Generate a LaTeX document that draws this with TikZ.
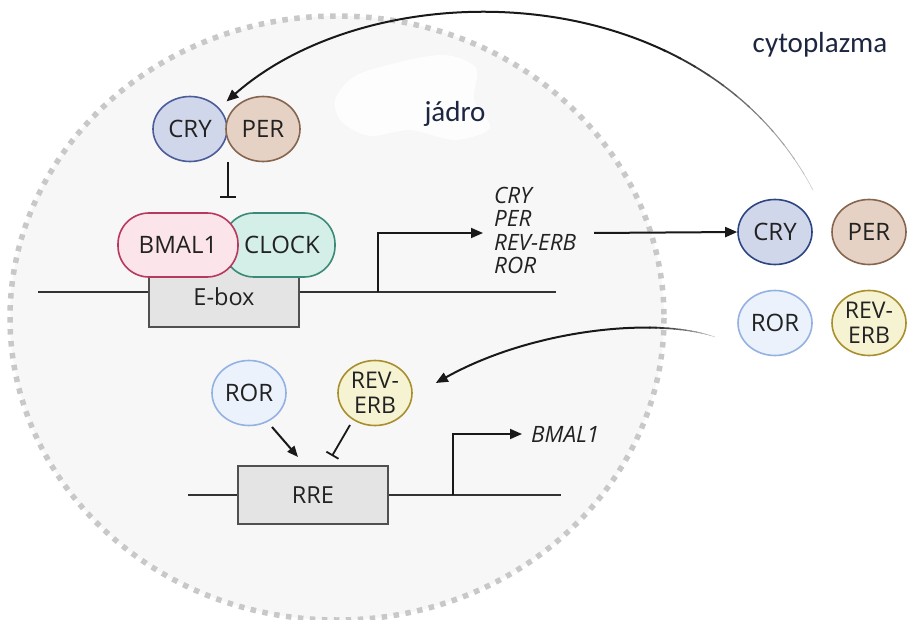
\documentclass[tikz,border=0pt]{standalone}
\usepackage{fontspec}
\setmainfont{Open Sans}
\newfontfamily\calib{Carlito}
\usetikzlibrary{arrows.meta,shapes.geometric,calc}
\definecolor{nucfill}{HTML}{F7F7F7}
\definecolor{dotc}{HTML}{C8C8C8}
\definecolor{txt}{HTML}{222222}
\definecolor{navy}{HTML}{1C2541}
\definecolor{cryf}{HTML}{D0D7EA}\definecolor{cryd}{HTML}{4B5C9B}\definecolor{cryd2}{HTML}{2D4580}
\definecolor{perf}{HTML}{E6D2C4}\definecolor{perd}{HTML}{86654F}
\definecolor{bmf}{HTML}{FBE4EA}\definecolor{bmd}{HTML}{B8395E}
\definecolor{clf}{HTML}{D4EEE8}\definecolor{cld}{HTML}{3A8A77}
\definecolor{rorf}{HTML}{EBF2FC}\definecolor{rord}{HTML}{93B2E2}
\definecolor{revf}{HTML}{F6F3D2}\definecolor{revd}{HTML}{A88F2E}
\definecolor{boxf}{HTML}{E4E4E4}\definecolor{boxd}{HTML}{505050}
\definecolor{dna}{HTML}{333333}
\tikzset{
  prot/.style={ellipse, draw, line width=1.6pt, minimum width=74pt, minimum height=65pt,
    inner sep=0pt, text=txt, font=\fontsize{24}{25}\selectfont, align=center},
  pill/.style={rectangle, rounded corners=31pt, draw, line width=1.6pt, minimum width=118pt,
    minimum height=64pt, inner sep=0pt, text=txt, font=\fontsize{24}{25}\selectfont},
  genebox/.style={rectangle, draw=boxd, fill=boxf, line width=1.6pt, inner sep=0pt,
    text=txt, font=\fontsize{23.5}{25}\selectfont},
  dnaline/.style={draw=dna, line width=2pt},
  act/.style={draw=black!90, line width=2pt, -{Triangle[length=12pt,width=10pt]}},
  inh/.style={draw=black!90, line width=1.8pt, -{Bar[width=16pt,line width=1.8pt]}},
  genetxt/.style={font=\fontsize{22.5}{23.5}\selectfont\itshape, text=txt, inner sep=0pt, align=left},
  region/.style={font=\calib\fontsize{29}{30}\selectfont, text=navy, inner sep=0pt}
}
\begin{document}
\begin{tikzpicture}[x=1pt,y=-1pt]
\useasboundingbox (0,0) rectangle (907,620);
\fill[white] (0,0) rectangle (907,620);
% nucleus
\fill[nucfill] (337,318) ellipse [x radius=327, y radius=302];
\fill[white, opacity=0.85] plot[smooth cycle] coordinates {(335,100) (355,76) (400,62) (445,55) (476,68) (474,100) (490,128) (455,140) (410,130) (370,136) (342,122)};
\draw[dotc, line width=5.5pt, dash pattern=on 5.5pt off 6.5pt] (337,318) ellipse [x radius=327, y radius=302];
% region labels
\node[region, anchor=base] (jadro) at (455,122) {jádro};
\node[region, anchor=base] (cyto) at (820,53) {cytoplazma};
% DNA lines
\coordinate (d1a) at (38,292); \coordinate (d1b) at (556,292);
\coordinate (d2a) at (188,495); \coordinate (d2b) at (561,495);
\draw[dnaline] (d1a) -- (d1b);
\draw[dnaline] (d2a) -- (d2b);
% boxes
\node[genebox, minimum width=150pt, minimum height=60pt] (ebox) at (224,297) {E-box};
\node[genebox, minimum width=150pt, minimum height=58pt] (rre) at (313,495) {RRE};
% BMAL1/CLOCK
\node[pill, fill=clf, draw=cld, minimum width=112pt] (clock) at (279,245) {\hspace*{6pt}CLOCK};
\node[pill, fill=bmf, draw=bmd, minimum width=120pt] (bmal) at (178,245) {BMAL1};
% nuclear CRY/PER
\node[prot, fill=cryf, draw=cryd] (ncry) at (190,129) {CRY};
\node[prot, fill=perf, draw=perd] (nper) at (263,129) {PER};
% nuclear ROR / REV-ERB
\node[prot, fill=rorf, draw=rord] (nror) at (249,393) {ROR};
\node[prot, fill=revf, draw=revd, font=\fontsize{23}{25}\selectfont] (nrev) at (375,393) {REV-\\ERB};
% cytoplasm proteins
\node[prot, fill=cryf, draw=cryd2] (ccry) at (775,232) {CRY};
\node[prot, fill=perf, draw=perd] (cper) at (869,232) {PER};
\node[prot, fill=rorf, draw=rord] (cror) at (775,323) {ROR};
\node[prot, fill=revf, draw=revd, font=\fontsize{23}{25}\selectfont] (crev) at (869,323) {REV-\\ERB};
% gene texts
\node[genetxt, anchor=west] (genes) at (494,230.5) {CRY\\PER\\REV-ERB\\ROR};
\node[genetxt, anchor=west] (bgene) at (531,434) {BMAL1};
% promoter arrows
\coordinate (p1) at (378,292); \coordinate (t1) at (483,233);
\draw[act, line width=1.8pt] (p1) |- (t1);
\coordinate (p2) at (453,495); \coordinate (t2) at (522,434);
\draw[act, line width=1.8pt] (p2) |- (t2);
% genes -> cytoplasm
\coordinate (g1) at (594,233);
\draw[act] (g1) -- (ccry.west);
% inhibition CRY/PER -> BMAL1/CLOCK
\coordinate (i1) at (228,162); \coordinate (i2) at (228,198);
\draw[inh] (i1) -- (i2);
% ROR -> RRE, REV-ERB -| RRE
\coordinate (r1) at (272,427); \coordinate (r2) at (298,457);
\draw[act, -{Triangle[length=11pt,width=9pt]}] (r1) -- (r2);
\coordinate (v1) at (350,425); \coordinate (v2) at (332,456);
\draw[inh, -{Bar[width=14pt,line width=1.8pt]}] (v1) -- (v2);
% curved import arrow 1 (to nuclear CRY/PER): faded tail then solid
\foreach \i in {0,...,11}{
  \pgfmathsetmacro{\ta}{\i*0.025}
  \pgfmathsetmacro{\tb}{(\i+1)*0.025+0.003}
  \pgfmathsetmacro{\cc}{20+\i*6}
  \pgfmathsetmacro{\lw}{0.6+\i*0.12}
  \draw[black!\cc, line width=\lw pt, line cap=round] plot[domain=\ta:\tb, samples=4, variable=\t]
   ({(1-\t)^3*813+3*(1-\t)^2*\t*700+3*(1-\t)*\t^2*380+\t^3*228},
    {(1-\t)^3*190-3*(1-\t)^2*\t*25-3*(1-\t)*\t^2*30+\t^3*92});
}
\coordinate (af) at (665.5,51);
\draw[black!90, line width=2pt, line cap=round, -{Triangle[length=12pt,width=10pt]}] (af) .. controls (523.1,-16.6) and (334.4,6.6) .. ($(ncry.north east)!0.5!(nper.north west)+(0,-4)$);
% curved import arrow 2 (to nuclear REV-ERB)
\foreach \i in {0,...,11}{
  \pgfmathsetmacro{\ta}{\i*0.025}
  \pgfmathsetmacro{\tb}{(\i+1)*0.025+0.003}
  \pgfmathsetmacro{\cc}{20+\i*6}
  \pgfmathsetmacro{\lw}{0.6+\i*0.12}
  \draw[black!\cc, line width=\lw pt, line cap=round] plot[domain=\ta:\tb, samples=4, variable=\t]
   ({(1-\t)^3*715+3*(1-\t)^2*\t*660+3*(1-\t)*\t^2*540+\t^3*435},
    {(1-\t)^3*337+3*(1-\t)^2*\t*318+3*(1-\t)*\t^2*325+\t^3*383});
}
\coordinate (bf) at (650.11,327.6);
\draw[black!90, line width=2pt, line cap=round, -{Triangle[length=12pt,width=10pt]}] (bf) .. controls (589.35,326.79) and (508.5,342.4) .. ($(nrev.east)+(23,-10)$);
\end{tikzpicture}
\end{document}
